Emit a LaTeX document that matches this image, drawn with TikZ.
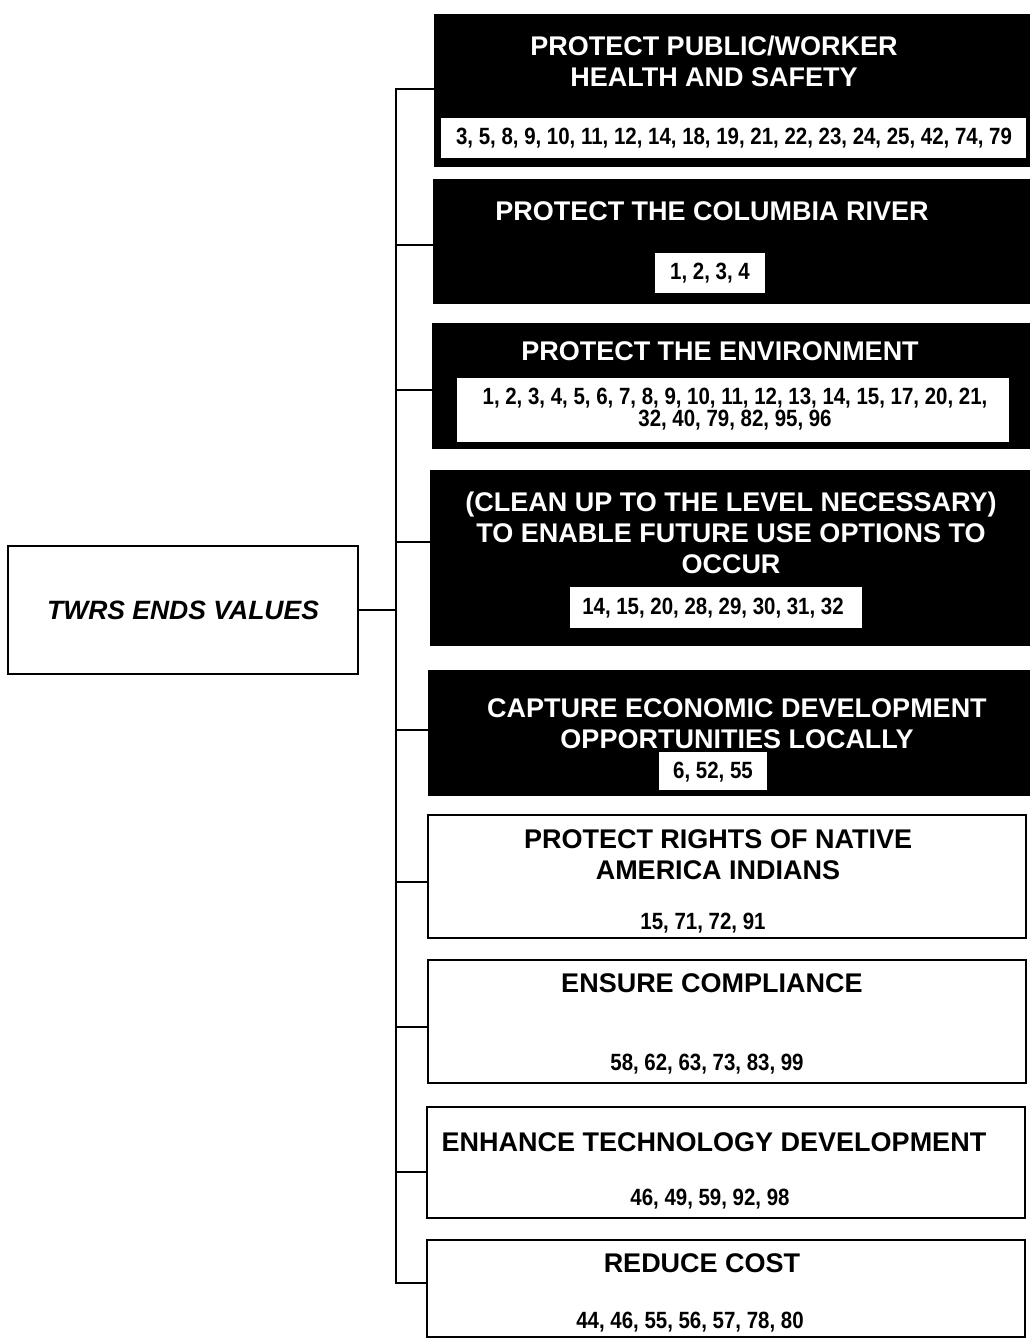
\documentclass[tikz,border=0pt]{standalone}
\usepackage{fontspec}
\setmainfont{Liberation Sans}
\newfontfamily\numfont[FakeStretch=0.87]{Liberation Sans}
\begin{document}
\begin{tikzpicture}[x=1pt,y=-1pt,
  ln/.style={line width=2.5pt, line cap=rect},
  blackbox/.style={fill=black, draw=black, line width=1pt, inner sep=0pt},
  whitebox/.style={fill=white, draw=black, line width=2.5pt, inner sep=0pt},
  numbox/.style={fill=white, inner sep=0pt},
  ttl/.style={font=\fontsize{27}{31}\selectfont\bfseries, align=center, inner sep=0pt},
  num/.style={font=\numfont\fontsize{23.5}{22}\selectfont\bfseries, align=center, inner sep=0pt},
  rootstyle/.style={fill=white, draw=black, line width=2.5pt, inner sep=0pt,
    font=\fontsize{26.5}{30}\selectfont\bfseries\itshape}]
\useasboundingbox (0,0) rectangle (1029,1340);
\fill[white] (0,0) rectangle (1029,1340);

% root
\node[rootstyle, minimum width=350pt, minimum height=128pt] (root) at (183,610) {TWRS ENDS VALUES};

% boxes
\node[blackbox, minimum width=597pt, minimum height=152pt] (b1) at (732.5,91) {};
\node[blackbox, minimum width=598pt, minimum height=123pt] (b2) at (732,241.5) {};
\node[blackbox, minimum width=599pt, minimum height=125pt] (b3) at (731.5,385.5) {};
\node[blackbox, minimum width=601pt, minimum height=175pt] (b4) at (730.5,557.5) {};
\node[blackbox, minimum width=603pt, minimum height=125pt] (b5) at (729.5,732.5) {};
\node[whitebox, minimum width=598pt, minimum height=123pt] (b6) at (727,876.5) {};
\node[whitebox, minimum width=598pt, minimum height=123pt] (b7) at (727,1021.5) {};
\node[whitebox, minimum width=598pt, minimum height=111pt] (b8) at (726,1162.5) {};
\node[whitebox, minimum width=598pt, minimum height=97pt] (b9) at (726,1288.5) {};

% number boxes inside black boxes
\node[numbox, minimum width=585pt, minimum height=40pt] (n1) at (733.5,138) {};
\node[numbox, minimum width=110pt, minimum height=40pt] (n2) at (710,273) {};
\node[numbox, minimum width=552pt, minimum height=64pt] (n3) at (733,410) {};
\node[numbox, minimum width=292pt, minimum height=41pt] (n4) at (716,607.5) {};
\node[numbox, minimum width=108pt, minimum height=38pt] (n5) at (713,771) {};

% titles
\node[ttl, text=white] (t1) at (714,61) {PROTECT PUBLIC/WORKER\\HEALTH AND SAFETY};
\node[ttl, text=white] (t2) at (712,211) {PROTECT THE COLUMBIA RIVER};
\node[ttl, text=white] (t3) at (720,351) {PROTECT THE ENVIRONMENT};
\node[ttl, text=white] (t4) at (731,533) {(CLEAN UP TO THE LEVEL NECESSARY)\\TO ENABLE FUTURE USE OPTIONS TO\\OCCUR};
\node[ttl, text=white] (t5) at (737,724) {CAPTURE ECONOMIC DEVELOPMENT\\OPPORTUNITIES LOCALLY};
\node[ttl] (t6) at (718,855) {PROTECT RIGHTS OF NATIVE\\AMERICA INDIANS};
\node[ttl] (t7) at (712,983) {ENSURE COMPLIANCE};
\node[ttl] (t8) at (714,1142) {ENHANCE TECHNOLOGY DEVELOPMENT};
\node[ttl] (t9) at (702,1263) {REDUCE COST};

% numbers
\node[num] (m1) at (734,138) {3, 5, 8, 9, 10, 11, 12, 14, 18, 19, 21, 22, 23, 24, 25, 42, 74, 79};
\node[num] (m2) at (710,273) {1, 2, 3, 4};
\node[num] (m3) at (735,409) {1, 2, 3, 4, 5, 6, 7, 8, 9, 10, 11, 12, 13, 14, 15, 17, 20, 21,\\32, 40, 79, 82, 95, 96};
\node[num] (m4) at (713,608) {14, 15, 20, 28, 29, 30, 31, 32};
\node[num] (m5) at (713,772) {6, 52, 55};
\node[num] (m6) at (703,923) {15, 71, 72, 91};
\node[num] (m7) at (707,1064) {58, 62, 63, 73, 83, 99};
\node[num] (m8) at (710,1199) {46, 49, 59, 92, 98};
\node[num] (m9) at (690,1322) {44, 46, 55, 56, 57, 78, 80};

% trunk coordinates
\coordinate (k1) at (396,89);
\coordinate (k2) at (396,245);
\coordinate (k3) at (396,390);
\coordinate (k4) at (396,542);
\coordinate (k0) at (396,610);
\coordinate (k5) at (396,730);
\coordinate (k6) at (396,882);
\coordinate (k7) at (396,1027);
\coordinate (k8) at (396,1172);
\coordinate (k9) at (396,1283);

\draw[ln] (k1) -- (k9);
\draw[ln] (root.east) -- (k0);
\foreach \i in {1,...,9} {
  \draw[ln] (k\i) -- (k\i -| b\i.west);
}
\end{tikzpicture}
\end{document}
